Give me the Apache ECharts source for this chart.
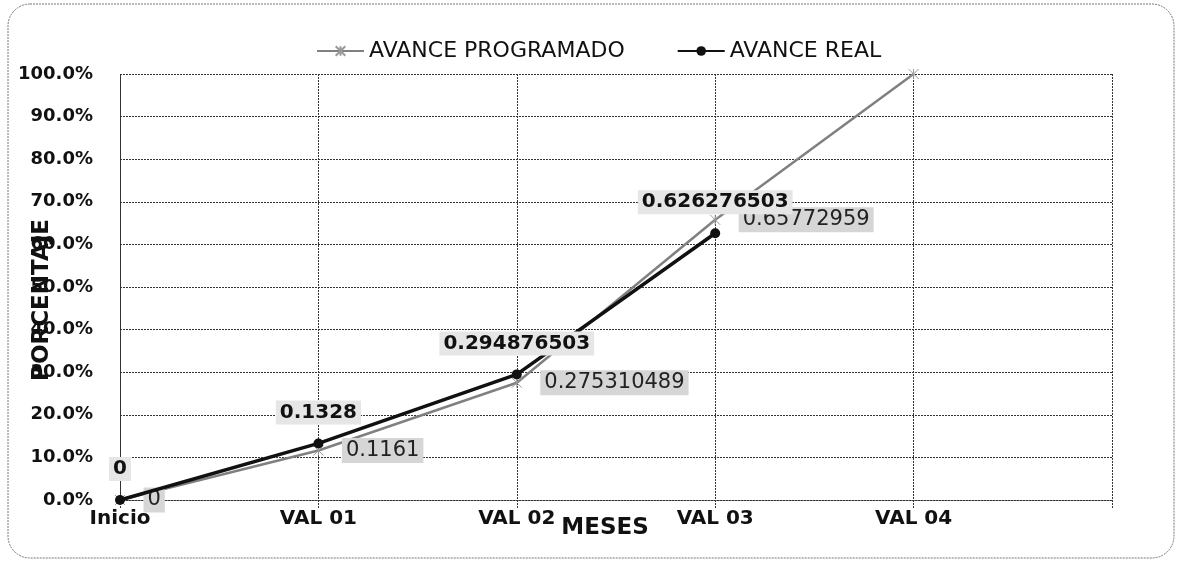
<!DOCTYPE html>
<html>
<head>
<meta charset="utf-8">
<script src="https://cdn.jsdelivr.net/npm/echarts@6/dist/echarts.min.js"></script>
<style>
html,body{margin:0;padding:0;background:#fff;}
#c{width:1181px;height:563px;}
</style>
</head>
<body>
<div id="c"></div>
<script>
var categories = ['Inicio', 'VAL 01', 'VAL 02', 'VAL 03', 'VAL 04', ''];
var programado = [0, 0.1161, 0.275310489, 0.65772959, 1.0];
var real = [0, 0.1328, 0.294876503, 0.626276503];
var programadoLabelShown = [true, true, true, true, false];
var yTicks = [0, 0.1, 0.2, 0.3, 0.4, 0.5, 0.6, 0.7, 0.8, 0.9, 1.0];

var FONT = 'DejaVu Sans';
var chart = echarts.init(document.getElementById('c'), null, {renderer: 'canvas'});

var progData = programado.map(function (v, i) {
  return {value: v, label: {show: programadoLabelShown[i]}};
});

var option = {
  backgroundColor: '#fff',
  animation: false,
  textStyle: {fontFamily: FONT},
  graphic: [{
    type: 'rect', silent: true, z: -10,
    shape: {x: 8, y: 4, width: 1166, height: 554, r: 22},
    style: {fill: 'none', stroke: '#777', lineWidth: 1, lineDash: [2, 1]}
  }],
  legend: {
    top: 35, left: 311,
    itemWidth: 47, itemHeight: 12, itemGap: 52,
    textStyle: {fontFamily: FONT, fontSize: 22, color: '#111'},
    data: ['AVANCE PROGRAMADO', 'AVANCE REAL']
  },
  grid: {left: 120, right: 69, top: 74, bottom: 63, containLabel: false, outerBoundsMode: 'none'},
  xAxis: {
    type: 'category', data: categories, boundaryGap: false,
    name: 'MESES', nameLocation: 'middle', nameGap: 17, nameMoveOverlap: false,
    nameTextStyle: {fontFamily: FONT, fontSize: 23, fontWeight: 'bold', color: '#111', verticalAlign: 'top', padding: [0, 22, 0, 0]},
    axisLine: {show: true, lineStyle: {color: '#333', type: [2, 1], width: 1}},
    axisTick: {show: true, length: 8, lineStyle: {color: '#333', type: [2, 1]}},
    axisLabel: {fontFamily: FONT, fontSize: 20, fontWeight: 'bold', color: '#111', margin: 9,
      interval: 0},
    splitLine: {show: true, lineStyle: {color: '#333', type: [2, 1], width: 1}}
  },
  yAxis: {
    type: 'value', min: 0, max: 1, interval: 0.1,
    name: 'PORCENTAJE', nameLocation: 'middle', nameGap: 66, nameRotate: 90, nameMoveOverlap: false,
    nameTextStyle: {fontFamily: FONT, fontSize: 23, fontWeight: 'bold', color: '#111', padding: [0, 26, 0, 0]},
    axisLine: {show: true, lineStyle: {color: '#333', type: [2, 1], width: 1}},
    axisTick: {show: false},
    axisLabel: {fontFamily: FONT, fontSize: 18, fontWeight: 'bold', color: '#111', margin: 27,
      formatter: function (v) { return (v * 100).toFixed(1) + '%'; }},
    splitLine: {show: true, lineStyle: {color: '#333', type: [2, 1], width: 1}}
  },
  series: [
    {
      name: 'AVANCE PROGRAMADO', type: 'line', data: progData, z: 3,
      symbol: 'path://M0,0L10,10M10,0L0,10M5,0L5,10', symbolSize: 10,
      itemStyle: {color: '#bbb', borderColor: '#999', borderWidth: 1},
      lineStyle: {color: '#808080', width: 2.5},
      label: {
        show: true, position: 'right', distance: 18,
        fontFamily: FONT, fontSize: 21, color: '#222',
        backgroundColor: '#d6d6d6', padding: [2, 4],
        formatter: function (p) { return String(p.value); }
      }
    },
    {
      name: 'AVANCE REAL', type: 'line', data: real, z: 4,
      symbol: 'circle', symbolSize: 10,
      itemStyle: {color: '#111'},
      lineStyle: {color: '#111', width: 3.5},
      label: {
        show: true, position: 'top', distance: 14,
        fontFamily: FONT, fontSize: 20, fontWeight: 'bold', color: '#111',
        backgroundColor: '#e6e6e6', padding: [2, 4],
        formatter: function (p) { return String(p.value); }
      }
    }
  ]
};
chart.setOption(option);
</script>
</body>
</html>
